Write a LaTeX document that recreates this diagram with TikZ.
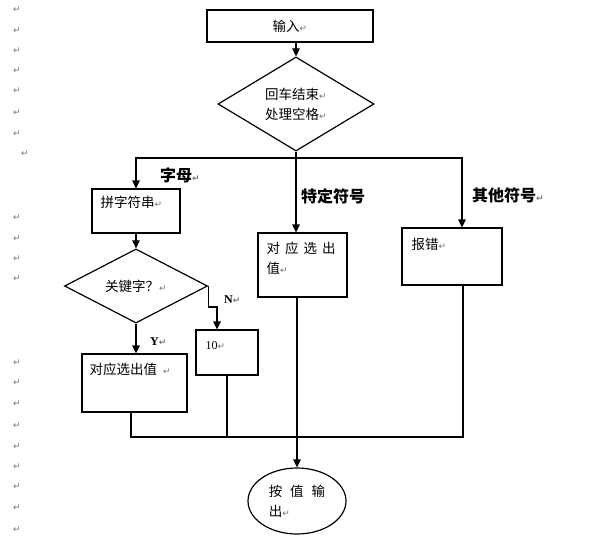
\documentclass[tikz,border=0pt]{standalone}
\usepackage{fontspec}
\setmainfont{Noto Sans CJK SC}
\newfontfamily\latinfont{Liberation Serif}
\newfontfamily\markfont{DejaVu Sans}
\usetikzlibrary{
    arrows.meta,
    positioning,
    shapes.geometric
}
\newcommand{\pmark}{{\markfont\fontsize{9}{9}\selectfont\color{black!55}↵}}

\begin{document}
\begin{tikzpicture}[
    x=1pt, y=-1pt,
    font=\fontsize{13.5}{20}\selectfont,
    box/.style={
        rectangle, draw, line width=1.2pt, inner sep=0pt
    },
    decision/.style={diamond, draw, line width=1.2pt, inner sep=0pt, align=center},
    txt/.style={inner sep=0pt, align=left},
    branch/.style={font=\fontsize{16}{18}\selectfont\bfseries, inner sep=0pt},
    yn/.style={font=\latinfont\fontsize{12}{14}\selectfont\bfseries, inner sep=0pt},
    wire/.style={line width=1.2pt},
    arrow/.style={-{Triangle[length=8pt, width=7.5pt]}, line width=1.2pt}
]
\useasboundingbox (0,0) rectangle (614,541);

% Paragraph marks down the left margin
\foreach \y [count=\i] in {10,31,51,71,91,113,134,218,239,259,279,363,383,404,426,447,467,487,508,530}
    \node[inner sep=0pt] (pm\i) at (17,\y) {\pmark};
\node[inner sep=0pt] (pmGap) at (25,154) {\pmark};

% Top: input and first test
\node[box, minimum width=166pt, minimum height=32pt] (in) at (290,26) {输入\pmark};
\node[decision, minimum width=156pt, minimum height=88pt] (trim) at (296,104) {回车结束\pmark\\处理空格\pmark};

% Letter branch
\node[box, minimum width=88pt, minimum height=44pt] (concat) at (136,211) {};
\node[txt, below right=7pt and 9pt of concat.north west] (concatT) {拼字符串\pmark};
\node[decision, minimum width=143pt, minimum height=73pt] (kw) at (136,286) {关键字？\pmark};
\node[box, minimum width=105pt, minimum height=58pt] (kwval) at (134.5,383) {};
\node[txt, below right=9pt and 8pt of kwval.north west] (kwvalT) {对应选出值\hspace{6pt}\pmark};
\node[box, minimum width=62pt, minimum height=45pt] (ten) at (227,352.5) {};
\node[txt, font=\latinfont\fontsize{12}{14}\selectfont, below right=12pt and 10pt of ten.north west] (tenT) {10\pmark};

% Special symbol branch
\node[box, minimum width=89pt, minimum height=64pt] (sym) at (302.5,265) {};
\node[txt, below right=9pt and 9pt of sym.north west] (symT) {对\hspace{5pt}应\hspace{5pt}选\hspace{5pt}出\\值\pmark};

% Other symbol branch
\node[box, minimum width=100pt, minimum height=57pt] (err) at (452,256.5) {};
\node[txt, below right=11pt and 10pt of err.north west] (errT) {报错\pmark};

% Output
\node[ellipse, draw, line width=1.2pt, inner sep=0pt, minimum width=98pt, minimum height=66pt, align=left] (out) at (297,501) {按\hspace{8pt}值\hspace{8pt}输\\出\pmark};

% Branch labels
\node[branch, anchor=west] (lbLetter) at (160,175) {字母\pmark};
\node[branch, anchor=west] (lbSpec) at (301,196) {特定符号};
\node[branch, anchor=west] (lbOther) at (472,195) {其他符号\pmark};
\node[yn, anchor=west] (lbN) at (224,300) {N\pmark};
\node[yn, anchor=west] (lbY) at (150,342) {Y\pmark};

% Bend points
\coordinate (fork) at (296,158);
\coordinate (forkR) at (462,158);
\coordinate (nbend) at (217,307);
\coordinate (joinL) at (131,437);
\coordinate (joinR) at (463,437);

% Connectors
\draw[arrow] (trim.north |- in.south) -- (trim.north);
\draw[wire] (trim.south) -- (fork);
\draw[arrow] (fork) -| (concat.north);
\draw[arrow] (fork) -- (fork |- sym.north);
\draw[arrow] (fork) -- (forkR) -- (forkR |- err.north);
\draw[arrow] (concat) -- (kw);
\draw[arrow] (kw.east) |- (nbend) -- (nbend |- ten.north);
\draw[arrow] (kw.south) -- (kw.south |- kwval.north);

% Merge to output
\draw[wire] (kwval.south -| joinL) -- (joinL) -- (joinR) -- (joinR |- err.south);
\draw[wire] (ten.south) -- (ten.south |- joinL);
\draw[arrow] (out.north |- sym.south) -- (out.north);

\end{tikzpicture}
\end{document}
